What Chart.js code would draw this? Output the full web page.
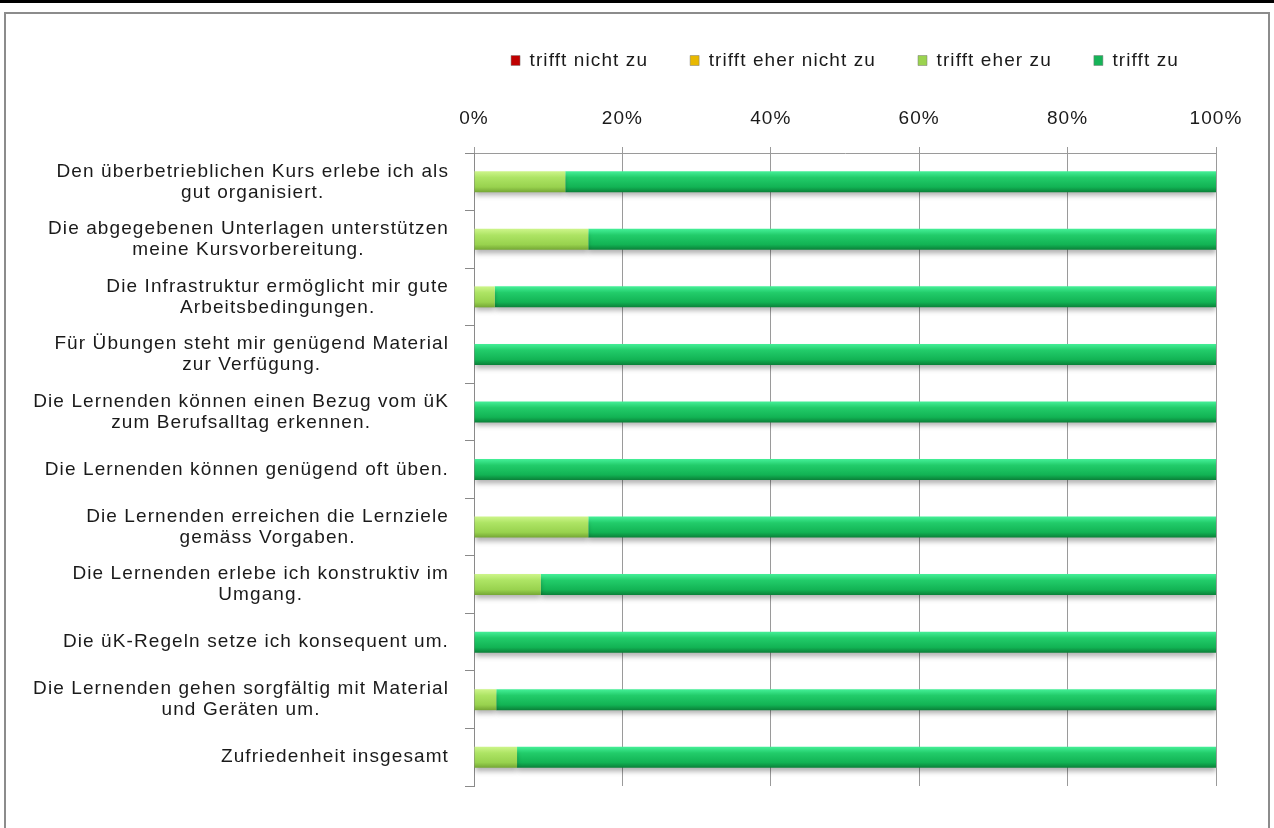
<!DOCTYPE html>
<html>
<head>
<meta charset="utf-8">
<script src="https://cdn.jsdelivr.net/npm/chart.js@4.4.1/dist/chart.umd.min.js"></script>
<style>
  html, body { margin: 0; padding: 0; background: #fff; }
  #wrap { position: relative; width: 1274px; height: 828px; overflow: hidden; }
  #topline { position: absolute; left: 0; top: 0; width: 1274px; height: 3px; background: #000; }
  #frame { position: absolute; left: 4px; top: 12px; width: 1262px; height: 830px; border: 2px solid #8c8c8c; }
  canvas { position: absolute; left: 0; top: 0; }
</style>
</head>
<body>
<div id="wrap">
  <div id="topline"></div>
  <div id="frame"></div>
  <canvas id="c" width="1274" height="828"></canvas>
</div>
<script>
// ---- data ----
const categories = [
  ["Den überbetrieblichen Kurs erlebe ich als", "gut organisiert."],
  ["Die abgegebenen Unterlagen unterstützen", "meine Kursvorbereitung."],
  ["Die Infrastruktur ermöglicht mir gute", "Arbeitsbedingungen."],
  ["Für Übungen steht mir genügend Material", "zur Verfügung."],
  ["Die Lernenden können einen Bezug vom üK", "zum Berufsalltag erkennen."],
  "Die Lernenden können genügend oft üben.",
  ["Die Lernenden erreichen die Lernziele", "gemäss Vorgaben."],
  ["Die Lernenden erlebe ich konstruktiv im", "Umgang."],
  "Die üK-Regeln setze ich konsequent um.",
  ["Die Lernenden gehen sorgfältig mit Material", "und Geräten um."],
  "Zufriedenheit insgesamt"
];
const seriesNames = ["trifft nicht zu", "trifft eher nicht zu", "trifft eher zu", "trifft zu"];
const trifftNichtZu     = [0, 0, 0, 0, 0, 0, 0, 0, 0, 0, 0];
const trifftEherNichtZu = [0, 0, 0, 0, 0, 0, 0, 0, 0, 0, 0];
const trifftEherZu      = [12.3, 15.4, 2.8, 0, 0, 0, 15.4, 9.0, 0, 3.0, 5.8];
const trifftZu          = [87.7, 84.6, 97.2, 100, 100, 100, 84.6, 91.0, 100, 97.0, 94.2];
const xTicks = [0, 20, 40, 60, 80, 100];

// ---- styles ----
const FONT = "'Liberation Sans', Arial, sans-serif";
const FSIZE = 19;
const LS = '1.1px';
const TEXT = '#1a1a1a';
const CAT_PCT = 0.5, BAR_PCT = 0.73;
const palettes = [
  ['#f05050', '#d01818', '#b00000', '#800000'],
  ['#ffe060', '#f0c000', '#d8a800', '#a07c00'],
  ['#cdf58a', '#ade464', '#98d24e', '#74a634'],
  ['#45f098', '#22cc6a', '#12b354', '#0a8038']
];
const legendColors = ['#c00000', '#e8b800', '#9bd34f', '#16b458'];

function barGradient(idx) {
  return function(ctx) {
    const chart = ctx.chart;
    const ys = chart.scales && chart.scales.y;
    if (!chart.chartArea || !ys || ctx.dataIndex === undefined) return legendColors[idx];
    const cy = ys.getPixelForValue(ctx.dataIndex);
    const band = (ys.bottom - ys.top) / categories.length;
    const h = band * CAT_PCT * BAR_PCT / 2;
    const g = chart.ctx.createLinearGradient(0, cy - h, 0, cy + h);
    const p = palettes[idx];
    g.addColorStop(0, p[0]);
    g.addColorStop(0.3, p[1]);
    g.addColorStop(0.75, p[2]);
    g.addColorStop(1, p[3]);
    return g;
  };
}

const seriesData = [trifftNichtZu, trifftEherNichtZu, trifftEherZu, trifftZu];

const spacingPlugin = {
  id: 'spacing',
  beforeUpdate(chart) { chart.ctx.letterSpacing = LS; },
  beforeLayout(chart) { chart.ctx.letterSpacing = LS; },
  beforeDraw(chart) { chart.ctx.letterSpacing = LS; }
};

// centre the legend row over the plot area (same centre, wide enough not to wrap)
const legendPosPlugin = {
  id: 'legendPos',
  afterLayout(chart) {
    if (chart.legend) {
      const ca = chart.chartArea;
      const right = chart.width;
      chart.legend.right = right;
      chart.legend.left = ca.left + ca.right - right;
    }
  }
};

const shadowPlugin = {
  id: 'barShadow',
  beforeDatasetsDraw(chart) {
    const c = chart.ctx;
    c.save();
    c.shadowColor = 'rgba(0,0,0,0.3)';
    c.shadowBlur = 5;
    c.shadowOffsetY = 4;
  },
  afterDatasetsDraw(chart) { chart.ctx.restore(); }
};

const yLabelPlugin = {
  id: 'yLabels',
  afterDraw(chart) {
    const c = chart.ctx, ys = chart.scales.y;
    c.save();
    c.font = FSIZE + 'px ' + FONT;
    c.letterSpacing = LS;
    c.fillStyle = TEXT;
    c.textBaseline = 'middle';
    c.textAlign = 'center';
    const right = ys.right - 25;
    categories.forEach((lab, i) => {
      const lines = Array.isArray(lab) ? lab : [lab];
      const w = Math.max(...lines.map(l => c.measureText(l).width));
      const cx = right - w / 2;
      const cy = ys.getPixelForValue(i);
      lines.forEach((l, k) => c.fillText(l, cx, cy + (k - (lines.length - 1) / 2) * 21));
    });
    c.restore();
  }
};

Chart.defaults.font.family = FONT;
Chart.defaults.font.size = FSIZE;
Chart.defaults.color = TEXT;

new Chart(document.getElementById('c'), {
  type: 'bar',
  data: {
    labels: categories,
    datasets: seriesNames.map((name, i) => ({
      label: name,
      data: seriesData[i],
      backgroundColor: barGradient(i),
      borderWidth: 0,
      categoryPercentage: CAT_PCT,
      barPercentage: BAR_PCT
    }))
  },
  options: {
    indexAxis: 'y',
    responsive: false,
    animation: false,
    devicePixelRatio: 1,
    layout: { padding: { top: 9, left: 0, right: 58, bottom: 42 } },
    plugins: {
      tooltip: { enabled: false },
      legend: {
        position: 'top',
        labels: {
          boxWidth: 9,
          boxHeight: 10,
          padding: 42,
          color: TEXT,
          font: { size: FSIZE, family: FONT },
          generateLabels(chart) {
            return Chart.defaults.plugins.legend.labels.generateLabels(chart).map((l, i) => ({
              ...l, fillStyle: legendColors[i], strokeStyle: '#777', lineWidth: 0.5
            }));
          }
        }
      }
    },
    scales: {
      x: {
        position: 'top',
        stacked: true,
        min: 0,
        max: 100,
        afterBuildTicks(scale) { scale.ticks = xTicks.map(v => ({ value: v })); },
        afterFit(scale) { scale.height = 73; },
        ticks: {
          padding: 17,
          color: TEXT,
          font: { size: FSIZE, family: FONT },
          callback: v => v + '%'
        },
        grid: { color: '#9a9a9a', lineWidth: 1, tickLength: 6, drawTicks: true },
        border: { display: true, color: '#9a9a9a', width: 1 }
      },
      y: {
        stacked: true,
        afterFit(scale) { scale.width = 474; },
        ticks: { display: false },
        grid: { offset: true, drawOnChartArea: false, drawTicks: true, tickLength: 9, color: '#8a8a8a' },
        border: { display: true, color: '#8a8a8a', width: 1 }
      }
    }
  },
  plugins: [spacingPlugin, legendPosPlugin, shadowPlugin, yLabelPlugin]
});
</script>
</body>
</html>
